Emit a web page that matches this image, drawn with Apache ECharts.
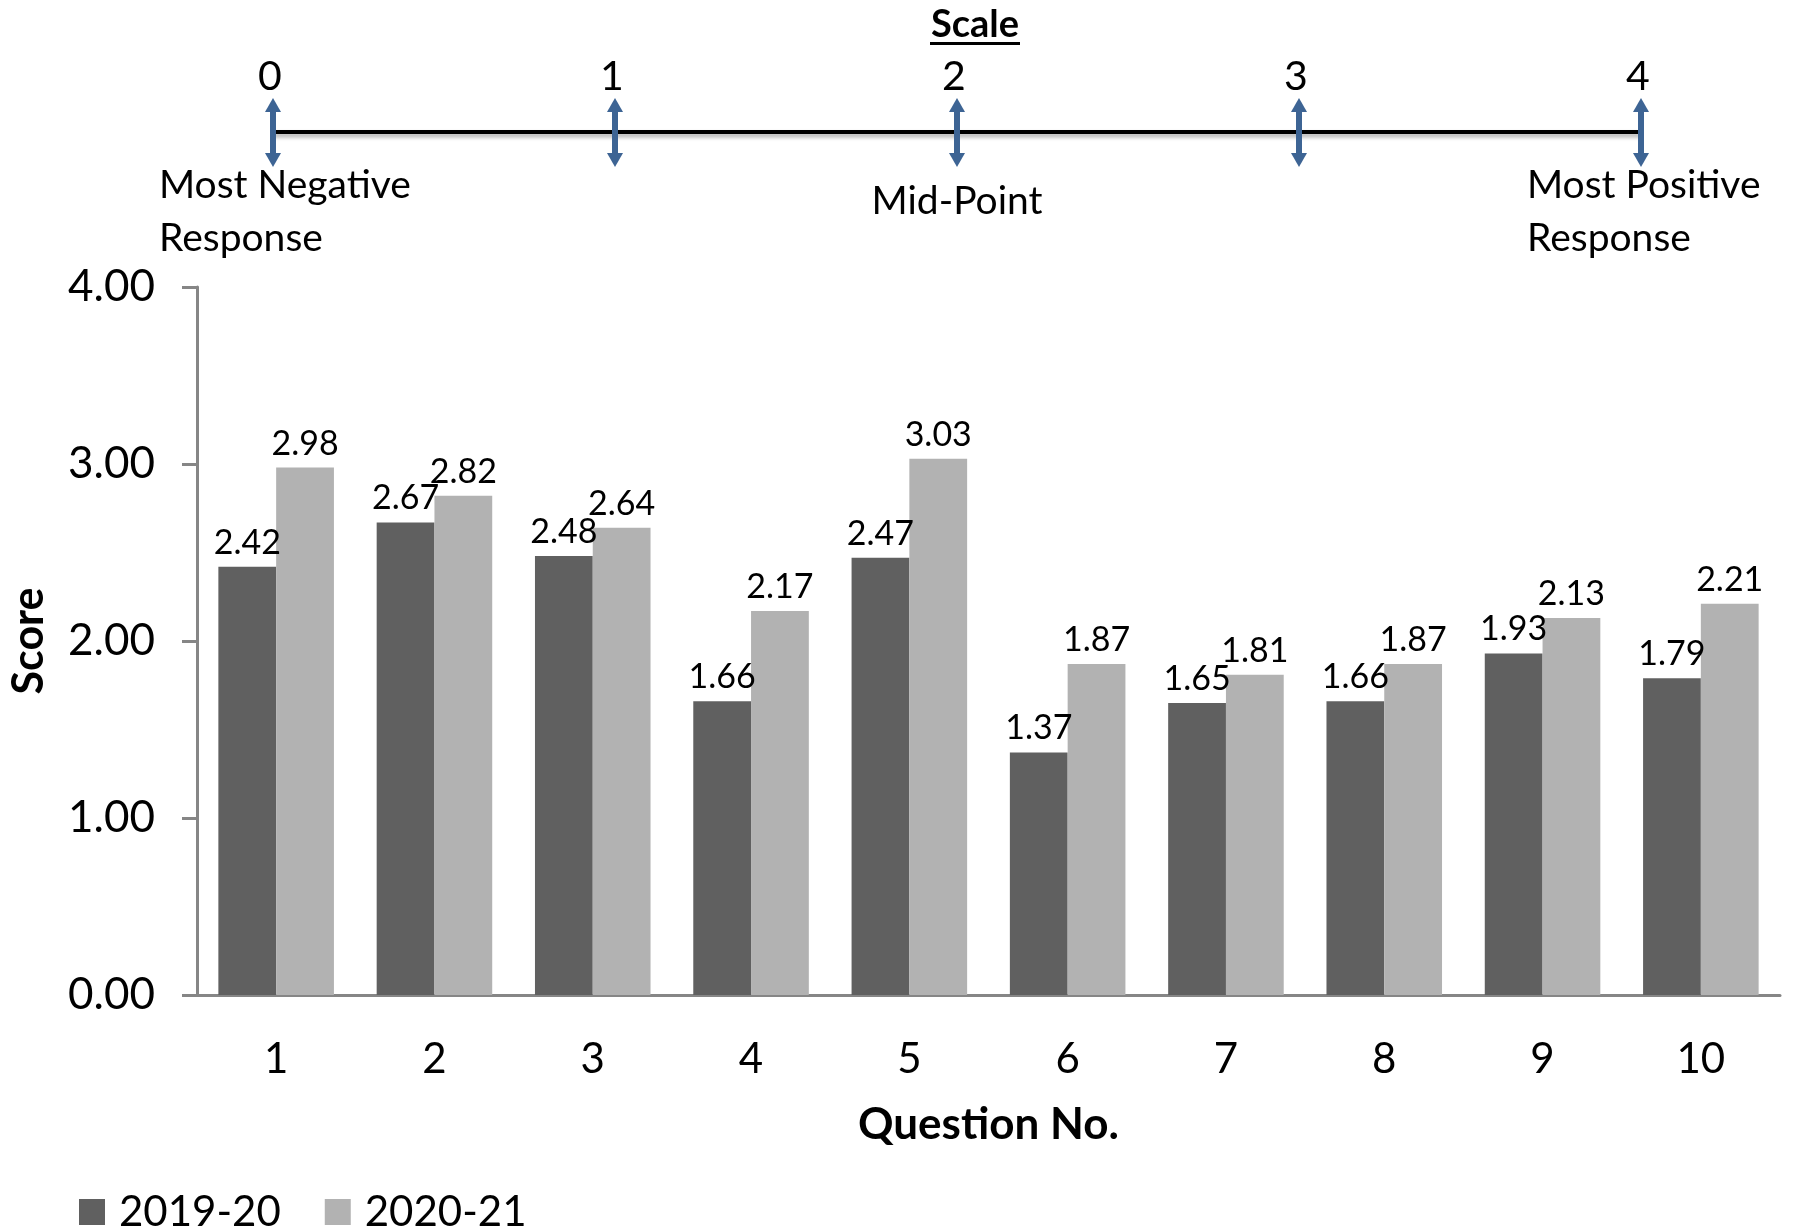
<!DOCTYPE html>
<html>
<head>
<meta charset="utf-8">
<script src="https://cdn.jsdelivr.net/npm/echarts@6/dist/echarts.min.js"></script>
<style>
html,body{margin:0;padding:0;background:#fff;}
#chart{width:1802px;height:1227px;}
</style>
</head>
<body>
<div id="chart"></div>
<script>
const categories = ['1','2','3','4','5','6','7','8','9','10'];
const values2019 = [2.42, 2.67, 2.48, 1.66, 2.47, 1.37, 1.65, 1.66, 1.93, 1.79];
const values2020 = [2.98, 2.82, 2.64, 2.17, 3.03, 1.87, 1.81, 1.87, 2.13, 2.21];
const seriesNames = ['2019-20', '2020-21'];
const yTicks = [0, 1, 2, 3, 4];
const scaleValues = [0, 1, 2, 3, 4];
const scaleNotes = ['Most Negative\nResponse', '', 'Mid-Point', '', 'Most Positive\nResponse'];

const FONT = 'Lato, "Open Sans", sans-serif';
const ARROW = '#3d6494';

const chart = echarts.init(document.getElementById('chart'), null, {renderer: 'canvas'});

const option = {
  backgroundColor: '#fff',
  animation: false,
  graphic: [{
    type: 'group', x: 975, y: 25,
    children: [
      {type: 'text', style: {text: 'Scale', x: 0, y: 0, align: 'center', verticalAlign: 'middle',
        font: 'bold 38px ' + FONT, fill: '#000'}},
      {type: 'rect', shape: {x: -45, y: 17, width: 90, height: 3}, style: {fill: '#000'}}
    ]
  }],
  legend: {
    left: 74, top: 1186, itemWidth: 26, itemHeight: 26, itemGap: 44,
    icon: 'rect',
    textStyle: {fontFamily: FONT, fontSize: 42, color: '#000', padding: [0, 0, 0, 9]},
    data: seriesNames
  },
  grid: [
    {left: 192, right: 22, top: 287, bottom: 232, containLabel: false},
    {left: 273, right: 161, top: 100, height: 64, containLabel: false}
  ],
  xAxis: [{
    type: 'category', gridIndex: 0, data: categories,
    axisLine: {show: true, lineStyle: {color: '#868686', width: 3}},
    axisTick: {show: false},
    axisLabel: {fontFamily: FONT, fontSize: 42, color: '#000', margin: 43},
    name: 'Question No.', nameLocation: 'middle', nameGap: 108,
    nameTextStyle: {fontFamily: FONT, fontSize: 44, fontWeight: 'bold', color: '#000'}
  }, {
    type: 'value', gridIndex: 1, min: scaleValues[0], max: scaleValues[scaleValues.length - 1],
    show: false
  }],
  yAxis: [{
    type: 'value', gridIndex: 0, min: yTicks[0], max: yTicks[yTicks.length - 1], interval: 1,
    axisLine: {show: true, lineStyle: {color: '#868686', width: 3}},
    axisTick: {show: true, length: 15, lineStyle: {color: '#868686', width: 3}},
    splitLine: {show: false},
    axisLabel: {fontFamily: FONT, fontSize: 44, color: '#000', margin: 42,
      formatter: v => v.toFixed(2)},
    name: 'Score', nameLocation: 'middle', nameGap: 146, nameRotate: 90,
    nameTextStyle: {fontFamily: FONT, fontSize: 43, fontWeight: 'bold', color: '#000'}
  }, {
    type: 'value', gridIndex: 1, min: -1, max: 1, show: false
  }],
  series: [
    {
      name: seriesNames[0], type: 'bar', xAxisIndex: 0, yAxisIndex: 0,
      data: values2019, barGap: '0%', barCategoryGap: '27%',
      itemStyle: {color: '#606060'},
      label: {show: true, position: 'top', distance: 7, fontFamily: FONT, fontSize: 34, color: '#000',
        formatter: p => p.value.toFixed(2)}
    },
    {
      name: seriesNames[1], type: 'bar', xAxisIndex: 0, yAxisIndex: 0,
      data: values2020, barGap: '0%', barCategoryGap: '27%',
      itemStyle: {color: '#b2b2b2'},
      label: {show: true, position: 'top', distance: 7, fontFamily: FONT, fontSize: 34, color: '#000',
        formatter: p => p.value.toFixed(2)}
    },
    {
      type: 'line', xAxisIndex: 1, yAxisIndex: 1, silent: true, symbol: 'none',
      data: [[scaleValues[0], 0], [scaleValues[scaleValues.length - 1], 0]],
      lineStyle: {color: '#000', width: 4, shadowBlur: 4, shadowColor: 'rgba(0,0,0,0.35)', shadowOffsetY: 3},
      z: 3
    },
    {
      type: 'custom', xAxisIndex: 1, yAxisIndex: 1, silent: true, z: 4,
      data: scaleValues.map((v, i) => [v, 0, i]),
      renderItem: function (params, api) {
        const p = api.coord([api.value(0), 0]);
        const x = p[0], y = p[1];
        const i = api.value(2);
        const note = scaleNotes[i];
        const children = [
          {type: 'rect', shape: {x: x - 3, y: y - 24, width: 6, height: 48}, style: {fill: ARROW}},
          {type: 'polygon', shape: {points: [[x, y - 34], [x - 8, y - 20], [x + 8, y - 20]]}, style: {fill: ARROW}},
          {type: 'polygon', shape: {points: [[x, y + 35], [x - 8, y + 21], [x + 8, y + 21]]}, style: {fill: ARROW}},
          {type: 'text', style: {text: String(scaleValues[i]), x: x - 3, y: y - 55, align: 'center',
            verticalAlign: 'middle', font: '41px ' + FONT, fill: '#000'}}
        ];
        if (note) {
          if (note.indexOf('\n') >= 0) {
            children.push({type: 'text', style: {text: note, x: x - 114, y: y + 27, align: 'left',
              verticalAlign: 'top', font: '39px ' + FONT, lineHeight: 53, fill: '#000'}});
          } else {
            children.push({type: 'text', style: {text: note, x: x, y: y + 69, align: 'center',
              verticalAlign: 'middle', font: '39px ' + FONT, fill: '#000'}});
          }
        }
        return {type: 'group', children: children};
      }
    }
  ]
};
chart.setOption(option);
</script>
</body>
</html>
